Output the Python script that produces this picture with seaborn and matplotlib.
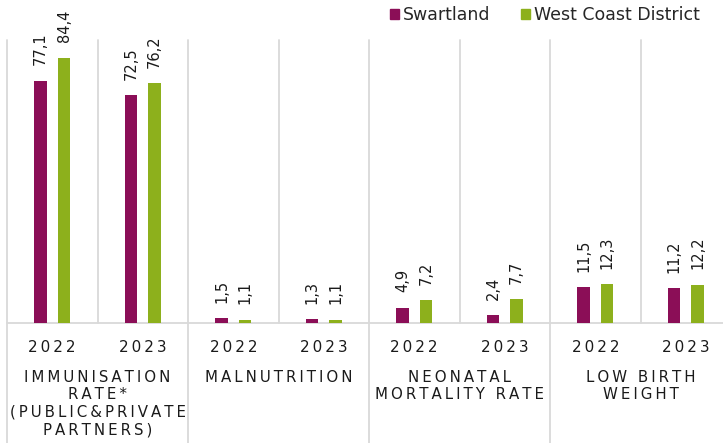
import matplotlib
matplotlib.use("Agg")
import matplotlib.pyplot as plt
import matplotlib.transforms as mtransforms
from matplotlib.patches import Patch
import pandas as pd
import seaborn as sns

# data
categories = ["IMMUNISATION\nRATE*\n(PUBLIC&PRIVATE\nPARTNERS)", "MALNUTRITION",
              "NEONATAL\nMORTALITY RATE", "LOW BIRTH\nWEIGHT"]
years = ["2022", "2023"]
swartland = [77.1, 72.5, 1.5, 1.3, 4.9, 2.4, 11.5, 11.2]
west_coast = [84.4, 76.2, 1.1, 1.1, 7.2, 7.7, 12.3, 12.2]
series = ["Swartland", "West Coast District"]
colors = ["#8B0E57", "#8DB01C"]

groups = [f"{c}|{y}" for c in categories for y in years]
df = pd.DataFrame({
    "group": groups * 2,
    "value": swartland + west_coast,
    "series": [series[0]] * len(groups) + [series[1]] * len(groups),
})

def spaced(s, sp="\u2009"):
    # fake letter spacing
    return "\n".join(sp.join(line) for line in s.split("\n"))

sns.set_theme(style="white")
plt.rcParams["font.family"] = ["DejaVu Sans"]

fig = plt.figure(figsize=(7.23, 4.43), dpi=100)
W, H = 723, 443
top_px, base_px, left_px, right_px = 40, 323, 7, 731
ax = fig.add_axes([left_px / W, (H - base_px) / H, (right_px - left_px) / W, (base_px - top_px) / H])

sns.barplot(data=df, x="group", y="value", hue="series", palette=colors, saturation=1,
            width=0.52, gap=0.47, errorbar=None, legend=False, linewidth=0, ax=ax)
for p in ax.patches:
    p.set_zorder(3)

ax.set_ylim(0, 90)
ax.set_xlim(-0.5, len(groups) - 0.5)
ax.set_yticks([])
ax.set_xlabel("")
ax.set_ylabel("")
for s in ax.spines.values():
    s.set_visible(False)

ax.set_xticks(range(len(groups)), [spaced(y, "\u200a\u200a") for _ in categories for y in years])
ax.tick_params(axis="x", length=0, pad=12, labelsize=11, labelcolor="#1a1a1a")

# value labels
for cont, vals in zip(ax.containers, [swartland, west_coast]):
    ax.bar_label(cont, labels=[f"{v:.1f}".replace(".", ",") for v in vals],
                 rotation=90, padding=11, fontsize=10.5, color="#1a1a1a")

grid = "#D9D9D9"
trans = mtransforms.blended_transform_factory(ax.transData, ax.transAxes)
ax.axhline(0, color=grid, lw=1.3, clip_on=False, zorder=1)
bottom_ax = -(H - base_px) / (base_px - top_px)
for i in range(len(groups) + 1):
    x = i - 0.5
    y0 = bottom_ax if i % 2 == 0 else 0
    ax.plot([x, x], [y0, 1], color=grid, lw=1.3, transform=trans, clip_on=False, zorder=1)

# category labels
for i, c in enumerate(categories):
    ax.text(2 * i + 0.5, -0.165, spaced(c), transform=trans, ha="center", va="top",
            fontsize=10.8, color="#1a1a1a", linespacing=1.22)

handles = [Patch(color=c) for c in colors]
ax.legend(handles, series, loc="center left", bbox_to_anchor=(374 / W, 1 - 15 / H),
          bbox_transform=fig.transFigure, ncol=2, frameon=False,
          handlelength=0.55, handleheight=0.55, handletextpad=0.2, columnspacing=1.75,
          fontsize=12.5, labelcolor="#262626")

fig.savefig("out.png", dpi=100)
